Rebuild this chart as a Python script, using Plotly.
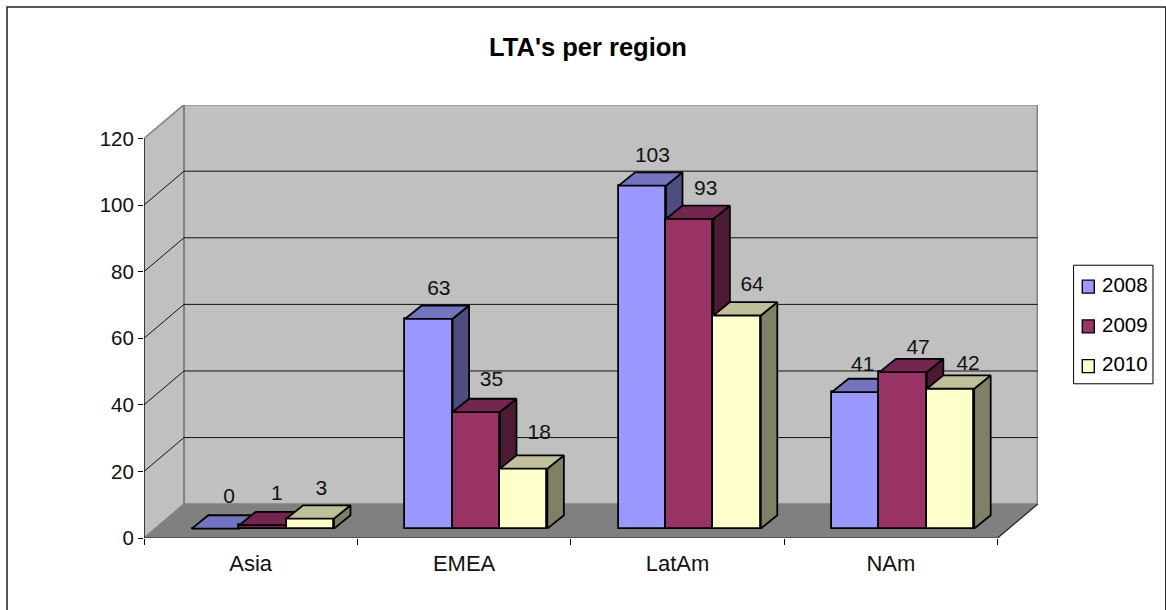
import plotly.graph_objects as go

# ---- data ----
categories = ["Asia", "EMEA", "LatAm", "NAm"]
years = ["2008", "2009", "2010"]
values_2008 = [0, 63, 103, 41]
values_2009 = [1, 35, 93, 47]
values_2010 = [3, 18, 64, 42]
y_ticks = [0, 20, 40, 60, 80, 100, 120]
title_text = "LTA's per region"

# ---- styles ----
front = ["#9999FF", "#993366", "#FFFFCC"]
top_c = ["#7373BF", "#732650", "#BFBF99"]
side_c = ["#4D4D80", "#4D1A33", "#808066"]
FONT = "Liberation Sans, Arial, sans-serif"
FS = 21

W, H = 1166, 610
L, R = 143.5, 1037.7      # plot area in pixels
T, B = 105.3, 537.7
CAT_PX = 213.45
UNIT_PX = 3.325

# scale helpers (pixel lengths -> axis units)
dx = lambda px: px / CAT_PX
dy = lambda px: px / UNIT_PX

x_range = [-0.5, -0.5 + dx(R - L)]
y_range = [0, dy(B - T)]
wall_x, wall_y = dx(40), dy(33.8)
bar_w = dx(47.4)
bar_dx, bar_dy = dx(16.5), dy(13.3)
base = dy(9.4)
group_shift = dx(12.2)
# label placement relative to each bar's top back edge, in pixels (series x category)
label_dx = [[13.6, 9.9, 10.1, 7.0], [13.9, 15.1, 16.0, 15.0], [11.0, 15.5, 15.0, 17.6]]
label_gap = [[17, 16, 16, 13], [17, 18, 16, 10], [16, 22, 16.5, 11]]

n = len(categories)
xmin, xmax = -0.5, n - 0.5


def poly(xs, ys, fill, line="black", lw=1.0, xa="x", ya="y"):
    return go.Scatter(x=xs, y=ys, mode="lines", fill="toself", fillcolor=fill,
                      line=dict(color=line, width=lw), hoverinfo="skip",
                      showlegend=False, cliponaxis=False, xaxis=xa, yaxis=ya)


def path(xs, ys, color="black", lw=1.0):
    return go.Scatter(x=xs, y=ys, mode="lines", line=dict(color=color, width=lw),
                      hoverinfo="skip", showlegend=False, cliponaxis=False)


fig = go.Figure()

# floor and walls
fig.add_trace(poly([xmin, xmax, xmax + wall_x, xmin + wall_x, xmin],
                   [0, 0, wall_y, wall_y, 0], "#808080", "#808080", 1))
top_tick = y_ticks[-1]
fig.add_trace(poly([xmin, xmin + wall_x, xmin + wall_x, xmin, xmin],
                   [0, wall_y, top_tick + wall_y, top_tick, 0], "#C0C0C0", "#808080", 1.5))
fig.add_trace(poly([xmin + wall_x, xmax + wall_x, xmax + wall_x, xmin + wall_x, xmin + wall_x],
                   [wall_y, wall_y, top_tick + wall_y, top_tick + wall_y, wall_y],
                   "#C0C0C0", "#808080", 2))
# gridlines
for t in y_ticks[1:-1]:
    fig.add_trace(path([xmin, xmin + wall_x, xmax + wall_x],
                       [t, t + wall_y, t + wall_y], "#111111", 1))
# drawn axis lines (the floor and wall edges need the axes to stop early)
fig.add_trace(path([xmin, xmin], [0, top_tick], "black", 1.2))
fig.add_trace(path([xmin, xmax], [0, 0], "#222222", 1.2))
fig.add_trace(path([xmax, xmax + wall_x], [0, wall_y], "#222222", 1.2))

# bars: each series in its own overlaid subplot so later series sit in front
series = [values_2008, values_2009, values_2010]
lab_x, lab_y, lab_t = [], [], []
for s, vals in enumerate(series):
    xa = f"x{s + 2}"
    ya = f"y{s + 2}"
    centers = [i + group_shift + (s - 1) * bar_w for i in range(n)]
    tx, ty, sx, sy = [], [], [], []
    for i, (c, v) in enumerate(zip(centers, vals)):
        l, r = c - bar_w / 2, c + bar_w / 2
        vt = base + v
        tx += [l, r, r + bar_dx, l + bar_dx, l, None]
        ty += [vt, vt, vt + bar_dy, vt + bar_dy, vt, None]
        sx += [r, r + bar_dx, r + bar_dx, r, r, None]
        sy += [base, base + bar_dy, vt + bar_dy, vt, base, None]
        lab_x.append(c + dx(label_dx[s][i]))
        lab_y.append(vt + bar_dy + dy(label_gap[s][i]))
        lab_t.append(str(v))
    fig.add_trace(go.Bar(x=centers, y=vals, base=base, width=bar_w, name=years[s],
                         marker=dict(color=front[s], line=dict(color="black", width=1.8)),
                         cliponaxis=False, showlegend=False, hoverinfo="skip",
                         xaxis=xa, yaxis=ya))
    fig.add_trace(poly(sx, sy, side_c[s], "black", 1.8, xa, ya))
    fig.add_trace(poly(tx, ty, top_c[s], "black", 1.8, xa, ya))

fig.add_trace(go.Scatter(x=lab_x, y=lab_y, text=lab_t, mode="text",
                         textposition="middle center",
                         textfont=dict(family=FONT, size=FS, color="#111111"),
                         hoverinfo="skip", showlegend=False, cliponaxis=False,
                         xaxis="x4", yaxis="y4"))

# pixel -> paper helpers
px = lambda v: (v - L) / (R - L)
py = lambda v: (B - v) / (B - T)
shapes = [
    dict(type="rect", xref="paper", yref="paper", x0=px(6.5), x1=px(1165.5),
         y0=py(630), y1=py(7.5), line=dict(color="#222222", width=1.5), layer="below"),
    dict(type="rect", xref="paper", yref="paper", x0=px(1073.3), x1=px(1152.7),
         y0=py(383.7), y1=py(265.3), line=dict(color="black", width=1)),
]
annotations = []
for i, yr in enumerate(years):
    ys = 286.7 + 39.7 * i
    yt = 285 + 39.2 * i
    shapes.append(dict(type="rect", xref="paper", yref="paper",
                       x0=px(1082), x1=px(1094), y0=py(ys + 6.5), y1=py(ys - 6.5),
                       fillcolor=front[i], line=dict(color="black", width=1.4)))
    annotations.append(dict(text=yr, xref="paper", yref="paper", x=px(1100), y=py(yt),
                            xanchor="left", yanchor="middle", showarrow=False,
                            font=dict(family=FONT, size=20.5, color="black")))

axis_off = dict(visible=False, fixedrange=True)
overlays = {}
for k in (2, 3, 4):
    overlays[f"xaxis{k}"] = dict(overlaying="x", range=x_range, **axis_off)
    overlays[f"yaxis{k}"] = dict(overlaying="y", range=y_range, **axis_off)

fig.update_layout(
    width=W, height=H, autosize=False,
    margin=dict(l=L, r=W - R, t=T, b=H - B, pad=0),
    paper_bgcolor="white", plot_bgcolor="rgba(0,0,0,0)",
    showlegend=False, barmode="overlay", bargap=0,
    title=dict(text=title_text, x=588 / W, y=1 - 47 / H, xref="container",
               xanchor="center", yanchor="middle",
               font=dict(family=FONT, size=25.5, color="black", weight="bold")),
    xaxis=dict(range=x_range, showgrid=False, zeroline=False, showline=False, fixedrange=True,
               tickmode="array", tickvals=list(range(n)), ticktext=categories, ticks="",
               ticklabelstandoff=10,
               tickfont=dict(family=FONT, size=22, color="#111111"),
               minor=dict(tickmode="array", tickvals=[i - 0.5 for i in range(n + 1)],
                          ticks="outside", ticklen=6, tickcolor="black", tickwidth=1, showgrid=False)),
    yaxis=dict(range=y_range, showgrid=False, zeroline=False, showline=False, fixedrange=True,
               tickmode="array", tickvals=y_ticks, ticktext=[str(t) for t in y_ticks],
               ticks="outside", ticklen=5, tickcolor="black", tickwidth=1,
               tickfont=dict(family=FONT, size=20.5, color="#111111")),
    shapes=shapes, annotations=annotations,
    **overlays,
)

fig.write_html("out.html", config=dict(displayModeBar=False),
               post_script="document.body.style.margin='0';document.body.style.overflow='hidden';")
